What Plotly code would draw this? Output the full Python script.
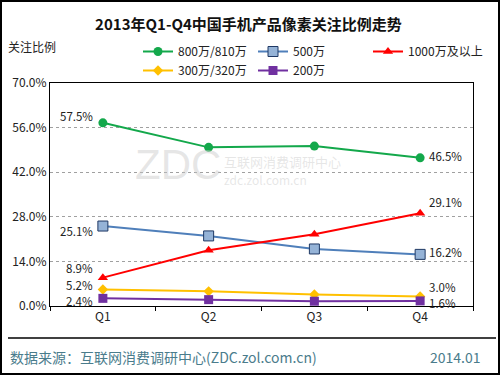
import plotly.graph_objects as go

quarters = ["Q1", "Q2", "Q3", "Q4"]
s800 = [57.5, 49.8, 50.2, 46.5]
s500 = [25.1, 22.0, 17.9, 16.2]
s1000 = [8.9, 17.5, 22.5, 29.1]
s300 = [5.2, 4.6, 3.6, 3.0]
s200 = [2.4, 2.0, 1.5, 1.6]
yticks = [0, 14, 28, 42, 56, 70]
ytick_labels = ["0.0%", "14.0%", "28.0%", "42.0%", "56.0%", "70.0%"]

FONT = "Noto Sans CJK SC, Lato, sans-serif"

# (name, values, line colour, marker, label y-shift at Q1, label y-shift at Q4)
series = [
    ("800万/810万", s800, "#13a84b", dict(symbol="circle", size=9, color="#13a84b"), 7, 2),
    ("500万", s500, "#4f7fba", dict(symbol="square", size=10, color="#95b3d7", line=dict(color="#1f3864", width=1)), -5, 2),
    ("1000万及以上", s1000, "#ff0000", dict(symbol="triangle-up", size=9, color="#ff0000"), 10, 11),
    ("300万/320万", s300, "#ffc000", dict(symbol="diamond", size=8, color="#ffc000"), 4, 9),
    ("200万", s200, "#7030a0", dict(symbol="square", size=9, color="#7030a0"), -3, -2),
]

fig = go.Figure()
for name, vals, color, marker, s1, s4 in series:
    fig.add_trace(go.Scatter(
        x=quarters, y=vals, name=name, mode="lines+markers",
        line=dict(color=color, width=2), marker=marker, cliponaxis=False,
    ))
    fig.add_annotation(x=quarters[0], y=vals[0], xref="x", yref="y", text=f"{vals[0]:.1f}%",
                       showarrow=False, xanchor="right", yanchor="middle", xshift=-8, yshift=s1,
                       font=dict(size=11.5, color="#222", family=FONT))
    fig.add_annotation(x=quarters[3], y=vals[3], xref="x", yref="y", text=f"{vals[3]:.1f}%",
                       showarrow=False, xanchor="left", yanchor="middle", xshift=7, yshift=s4,
                       font=dict(size=11.5, color="#222", family=FONT))

W0, W = 50, 423
H0, H = 306, 223
def px(x): return (x - W0) / W
def py(y): return (H0 - y) / H

fig.update_layout(
    width=500, height=375,
    margin=dict(l=50, r=27, t=83, b=69),
    paper_bgcolor="white", plot_bgcolor="white",
    font=dict(family=FONT, size=12, color="#222"),
    title=dict(text="<b>2013年Q1-Q4中国手机产品像素关注比例走势</b>", x=0.497, xanchor="center",
               y=1 - 25 / 375, yanchor="middle", font=dict(size=15, color="#111", family=FONT)),
    showlegend=True,
    legend=dict(orientation="h", x=px(138), xanchor="left", y=py(37), yanchor="top",
                entrywidth=70, entrywidthmode="pixels", font=dict(size=12, color="#222", family=FONT),
                bgcolor="rgba(0,0,0,0)", tracegroupgap=0, itemwidth=30),
    xaxis=dict(type="category", range=[-0.5, 3.5], showline=True, linecolor="black", linewidth=1,
               mirror=True, ticks="outside", ticklen=4, tickcolor="black", tickson="boundaries",
               showgrid=False, tickfont=dict(size=12, color="#222")),
    yaxis=dict(range=[0, 70], tickvals=yticks, ticktext=ytick_labels, showline=True, linecolor="black",
               linewidth=1, mirror=True, ticks="", showgrid=True, gridcolor="#a0a0a0", griddash="dot",
               gridwidth=1, tickfont=dict(size=12, color="#222"), zeroline=False),
)

fig.add_annotation(text="关注比例", xref="paper", yref="paper", x=px(6), y=py(47), xanchor="left",
                   yanchor="middle", showarrow=False, font=dict(size=12, color="#222"))
# watermark
fig.add_annotation(text="ZDC", xref="paper", yref="paper", x=px(133), y=py(164), xanchor="left",
                   yanchor="middle", showarrow=False, font=dict(size=42, color="rgba(200,200,200,0.45)", family="Liberation Sans"))
fig.add_annotation(text="互联网消费调研中心", xref="paper", yref="paper", x=px(222), y=py(161), xanchor="left",
                   yanchor="middle", showarrow=False, font=dict(size=13, color="rgba(200,200,200,0.45)"))
fig.add_annotation(text="zdc.zol.com.cn", xref="paper", yref="paper", x=px(222), y=py(179), xanchor="left",
                   yanchor="middle", showarrow=False, font=dict(size=12, color="rgba(200,200,200,0.45)"))
# footer
fig.add_annotation(text="数据来源：互联网消费调研中心(ZDC.zol.com.cn)", xref="paper", yref="paper", x=px(8), y=py(357),
                   xanchor="left", yanchor="middle", showarrow=False, font=dict(size=14, color="#4a7c8c"))
fig.add_annotation(text="2014.01", xref="paper", yref="paper", x=px(483), y=py(357),
                   xanchor="right", yanchor="middle", showarrow=False, font=dict(size=14, color="#4a7c8c"))

fig.add_shape(type="line", xref="paper", yref="paper", x0=px(8), x1=px(496), y0=py(338), y1=py(338),
              line=dict(color="black", width=1.5))
fig.add_shape(type="rect", xref="paper", yref="paper", x0=px(1), x1=px(499), y0=py(1), y1=py(374),
              line=dict(color="black", width=2))

fig.write_html("out.html", post_script="document.body.style.margin='0';",
               config={"displayModeBar": False})
